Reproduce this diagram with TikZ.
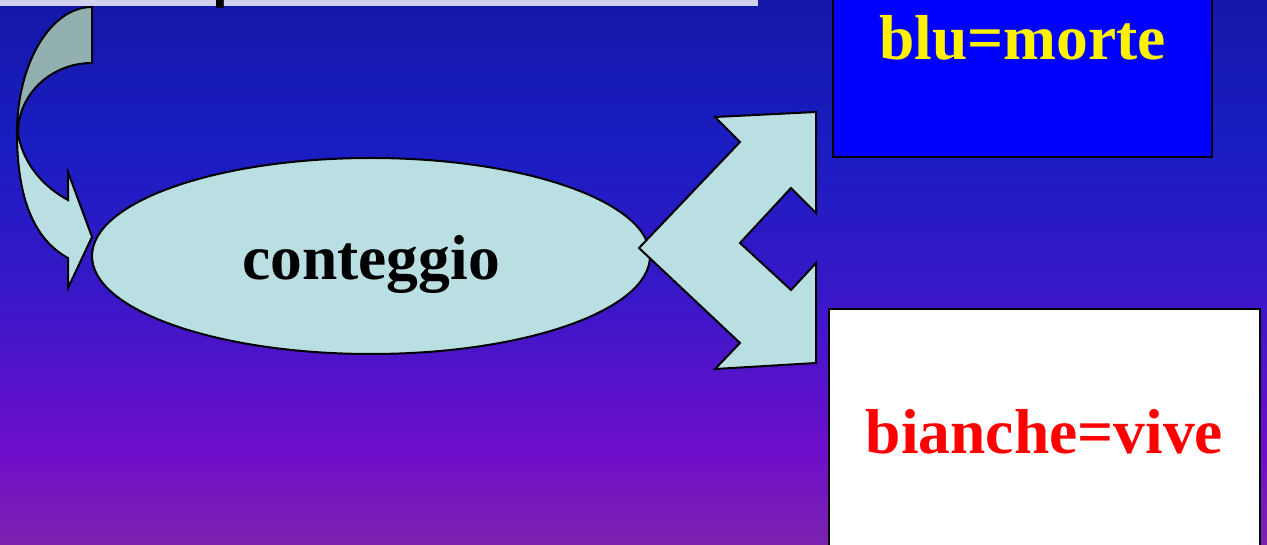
\documentclass[tikz,border=0pt]{standalone}
\usepackage{fontspec}
\setmainfont{Liberation Serif}
\newfontfamily\headfont{Liberation Sans}
\usetikzlibrary{shapes.geometric}

\definecolor{bgTop}{HTML}{1418A8}
\definecolor{bgBlue}{HTML}{1A1DC2}
\definecolor{bgMid}{HTML}{3A17C8}
\definecolor{bgViolet}{HTML}{6E0ECA}
\definecolor{bgBottom}{HTML}{7C22AE}
\definecolor{shapeFill}{HTML}{B9DFE3}
\definecolor{shapeBack}{HTML}{93B0B0}
\definecolor{titleBar}{HTML}{D0D2F0}
\definecolor{deadBlue}{HTML}{0000FF}

\tikzset{
  bigtext/.style={font=\fontsize{63.5}{70}\selectfont\bfseries, inner sep=0pt},
  blockarrow/.style={fill=shapeFill, draw=black, line width=2pt, line join=miter},
  resultbox/.style={rectangle, draw=black, line width=2pt, inner sep=0pt},
}

\begin{document}
\begin{tikzpicture}[x=1pt,y=-1pt]
  \useasboundingbox (0,0) rectangle (1267,545);

  % background: vertical blue-to-violet gradient
  \shade[top color=bgTop, bottom color=bgBlue] (0,-1) rectangle (1267,151);
  \shade[top color=bgBlue, bottom color=bgMid] (0,150) rectangle (1267,301);
  \shade[top color=bgMid, bottom color=bgViolet] (0,300) rectangle (1267,451);
  \shade[top color=bgViolet, bottom color=bgBottom] (0,450) rectangle (1267,546);

  % title bar running off the top edge
  \fill[titleBar] (0,-40) rectangle (758,6);
  \node[font=\headfont\bfseries\fontsize{57}{60}\selectfont, anchor=base west, inner sep=0pt]
    (titletext) at (212.2,-3.9) {p};

  % curved arrow into the ellipse: darker back face
  \filldraw[fill=shapeBack, draw=black, line width=2pt]
    (92,7) .. controls (50.6,7) and (17,63.4) .. (17,133)
    -- (18,133) .. controls (18,94.3) and (51.1,63) .. (92,63) -- cycle;
  % curved arrow: front face with head
  \filldraw[blockarrow]
    (17,133) .. controls (17,200) and (35,240) .. (68,258)
    -- (68,288) -- (92,237) -- (68,172) -- (68,200)
    .. controls (40,185) and (22,160) .. (18,133) -- cycle;

  % central ellipse
  \node[ellipse, fill=shapeFill, draw=black, line width=2pt,
        minimum width=558, minimum height=196, inner sep=0pt] (count) at (371,256) {};
  \node[bigtext, anchor=base] (countlabel) at (371,280) {conteggio};

  % forked arrow out of the ellipse
  \filldraw[blockarrow]
    (715,117) -- (816,112) -- (816,213) -- (791,188) -- (740,243)
    -- (791,290) -- (816,263) -- (816,363) -- (715,369) -- (740,343)
    -- (639,248) -- (740,142) -- cycle;

  % result boxes
  \node[resultbox, fill=deadBlue, minimum width=379, minimum height=177]
    (dead) at (1022.5,68.5) {};
  \node[bigtext, text=yellow, anchor=base] (deadlabel) at (1022.5,60) {blu=morte};

  \node[resultbox, fill=white, minimum width=431, minimum height=256]
    (alive) at (1044.5,437) {};
  \node[bigtext, text=red, anchor=base] (alivelabel) at (1044.5,453) {bianche=vive};
\end{tikzpicture}
\end{document}
